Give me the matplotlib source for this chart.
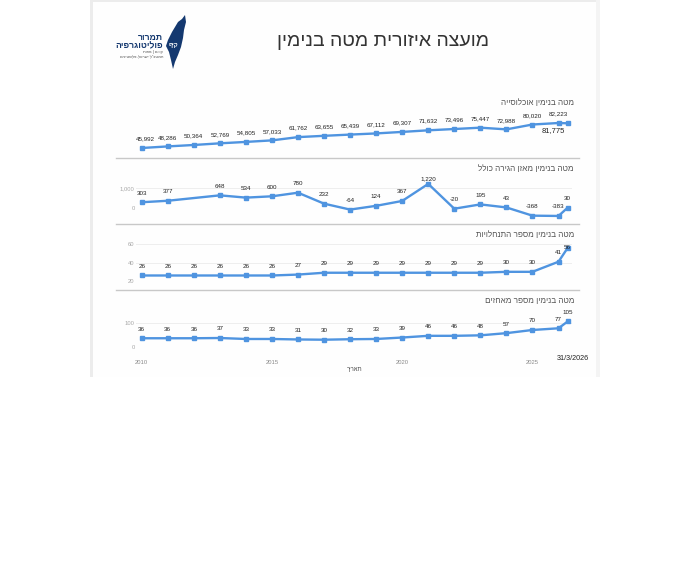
import matplotlib
matplotlib.use('Agg')
import matplotlib.pyplot as plt
from matplotlib.patches import Polygon, Rectangle

plt.rcParams['font.family'] = ['Liberation Sans', 'DejaVu Sans']

W, H = 680, 567
LINE = '#4f94e0'
NAVY = '#14386f'

YEARS = [2010, 2011, 2012, 2013, 2014, 2015, 2016, 2017, 2018, 2019, 2020,
         2021, 2022, 2023, 2024, 2025, 2026, 2026.35]
# the migration series has no point for 2012
YEARS_MIGRATION = [y for y in YEARS if y != 2012]

population = [45992, 48286, 50364, 52769, 54805, 57033, 61762, 63655, 65439,
              67112, 69307, 71632, 73496, 75447, 72988, 80020, 82223, 81775]
migration = [303, 377, 648, 534, 600, 780, 232, -64, 124, 367, 1220, -20, 195,
             43, -368, -383, 30]
settlements = [26, 26, 26, 26, 26, 26, 27, 29, 29, 29, 29, 29, 29, 29, 30, 30, 41, 56]
outposts = [36, 36, 36, 37, 33, 33, 31, 30, 32, 33, 39, 46, 46, 48, 57, 70, 77, 105]

TITLE = 'מועצה איזורית מטה בנימין'
PANEL_TITLES = ['מטה בנימין אוכלוסייה', 'מטה בנימין מאזן הגירה כולל',
                'מטה בנימין מספר התנחלויות', 'מטה בנימין מספר מאחזים']
X_LABEL = 'תאריך'
DATE = '31/3/2026'


def rtl(s):
    # matplotlib has no bidi support, so Hebrew goes in visual order
    return s[::-1]


def panel(fig, top, bottom, ylim, x, y, yticks=(), ticklabels=(), offsets=None):
    left, right = 136, 572
    ax = fig.add_axes([left / W, 1 - bottom / H, (right - left) / W, (bottom - top) / H])
    ax.patch.set_alpha(0)
    ax.set_xlim(2010 + (left - 141.7) / 26.05, 2010 + (right - 141.7) / 26.05)
    ax.set_ylim(*ylim)
    for s in ax.spines.values():
        s.set_visible(False)
    ax.set_yticks(yticks, ticklabels)
    ax.set_xticks([])
    ax.tick_params(axis='y', length=0, labelsize=4.2, labelcolor='#a8a8a8', pad=1)
    for t in yticks:
        ax.axhline(t, color='#eeeeee', lw=0.7, zorder=1)
    ax.plot(x, y, color=LINE, lw=1.7, marker='s', ms=3.4, clip_on=False, zorder=3)
    offsets = offsets or {}
    for i, (xi, yi) in enumerate(zip(x, y)):
        dx, dy = offsets.get(i, (0, 6.5))
        ax.annotate(f'{yi:,}', (xi, yi), xytext=(dx, dy), textcoords='offset points',
                    ha='center', va='center', fontsize=4.5, color='#222222',
                    annotation_clip=False, zorder=4)
    return ax


fig = plt.figure(figsize=(W / 100, H / 100), dpi=100, facecolor='white')

# page sheet and the decoration on it, in pixel coordinates
bg = fig.add_axes([0, 0, 1, 1])
bg.set_xlim(0, W)
bg.set_ylim(H, 0)
bg.axis('off')
bg.add_patch(Rectangle((90, 0), 507, 377, fc='#ececec', ec='none'))
bg.add_patch(Rectangle((93, 2), 503, 375, fc='#fefefe', ec='none'))
bg.add_patch(Rectangle((596, 0), 4, 377, fc='#f4f4f4', ec='none'))

israel = [(185, 15), (186, 22), (184, 30), (183, 38), (181, 47), (178, 55), (175, 62),
          (173, 69), (171, 60), (169, 52), (166, 46), (168, 40), (172, 32), (175, 27),
          (178, 22), (182, 19)]
bg.add_patch(Polygon(israel, closed=True, fc=NAVY, ec='none'))
bg.text(173.5, 45, rtl('קיף'), color='white', fontsize=4.2, ha='center', va='center', fontweight='bold')
bg.text(163, 37.5, rtl('תמרור'), color=NAVY, fontsize=6.2, ha='right', va='center', fontweight='bold')
bg.text(163, 45.5, rtl('פוליטוגרפיה'), color=NAVY, fontsize=6.2, ha='right', va='center', fontweight='bold')
bg.text(163, 52, rtl('קווים | מפות'), color='#555555', fontsize=2.8, ha='right', va='center')
bg.text(163, 57, rtl('המטכ"ל ישראל-פלסטינים'), color='#555555', fontsize=2.9, ha='right', va='center')

bg.text(383, 41, rtl(TITLE), fontsize=14, color='#333333', ha='center', va='center')
for y, txt in zip([103, 169, 235, 301], PANEL_TITLES):
    bg.text(574, y, rtl(txt), fontsize=5.9, color='#555555', ha='right', va='center')
for y in [158, 224, 290]:
    bg.plot([116, 579], [y, y], color='#c8c8c8', lw=1)
bg.text(355, 370, rtl(X_LABEL), fontsize=4.2, color='#444444', ha='center', va='center')
bg.text(573, 359, DATE, fontsize=5.2, color='#222222', ha='center', va='center')

panel(fig, 123, 148, (45992, 82223), YEARS, population,
      offsets={0: (3, 6.5), 17: (-10, -5)})
# the closing population figure is printed larger
fig.axes[-1].texts[-1].set_fontsize(5.5)

panel(fig, 188.3, 208.3, (0, 1000), YEARS_MIGRATION, migration, yticks=[0, 1000],
      ticklabels=['0', '1,000'], offsets={10: (0, 3.5)})

panel(fig, 244.3, 281, (20, 60), YEARS, settlements, yticks=[20, 40, 60],
      ticklabels=['20', '40', '60'], offsets={17: (0, 0.5)})

ax = panel(fig, 322.7, 347, (0, 100), YEARS, outposts, yticks=[0, 100],
           ticklabels=['0', '100'])
ax.set_xticks([2010, 2015, 2020, 2025], ['2010', '2015', '2020', '2025'])
ax.tick_params(axis='x', length=0, labelsize=4.2, labelcolor='#8a8a8a', pad=9)

fig.savefig('out.png', dpi=100)
